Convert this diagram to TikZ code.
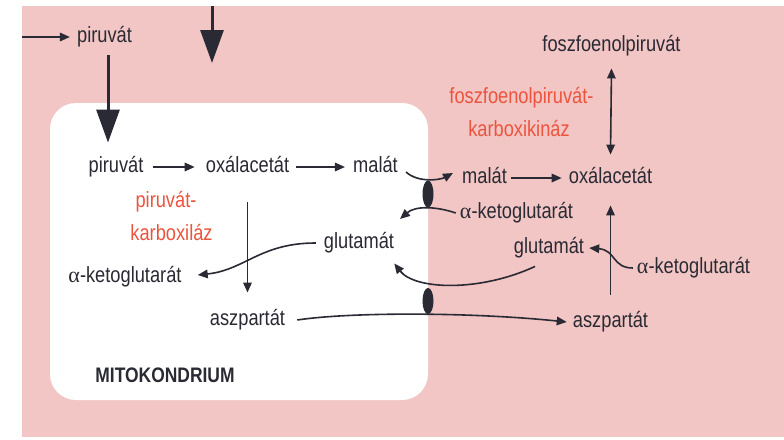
\documentclass[tikz,border=0pt]{standalone}
\usepackage{fontspec}
\setmainfont{Liberation Sans}[FakeStretch=0.83]
\newfontfamily\greekserif{Liberation Serif}
\newcommand{\galpha}{{\greekserif α}}
\usetikzlibrary{arrows.meta}
\definecolor{bgpink}{RGB}{242,198,196}
\definecolor{ink}{RGB}{42,42,52}
\definecolor{enzred}{RGB}{236,84,62}
\begin{document}
\begin{tikzpicture}[x=1pt,y=-1pt,
  lbl/.style={text=ink, font=\fontsize{22}{26}\selectfont, text height=16pt, text depth=4.5pt, inner xsep=4pt, inner ysep=0pt},
  enz/.style={lbl, text=enzred},
  title/.style={text=ink, font=\bfseries\fontsize{21}{24}\selectfont, inner sep=0pt},
  arr/.style={draw=ink, line width=1.6pt, -{Triangle[length=10pt,width=8.5pt]}},
  dblarr/.style={draw=ink, line width=1.6pt, {Triangle[length=10pt,width=8.5pt]}-{Triangle[length=10pt,width=8.5pt]}},
  bigarr/.style={draw=ink, line width=3pt, -{Triangle[length=33pt,width=23pt]}},
  carrier/.style={fill=ink}
]
\useasboundingbox (0,0) rectangle (784,439);
% cytosol and mitochondrion
\fill[bgpink] (22,6) rectangle (784,437);
\fill[white, rounded corners=26pt] (50,103) rectangle (428,400);

% metabolites
\node[lbl] (pirTop) at (104.5,37) {piruvát};
\node[lbl] (pep) at (611.5,46) {foszfoenolpiruvát};
\node[enz] (pepk1) at (521.5,98) {foszfoenolpiruvát-};
\node[enz] (pepk2) at (519,131) {karboxikináz};
\node[lbl] (pir) at (116,167) {piruvát};
\node[lbl] (oxa) at (247.5,167) {oxálacetát};
\node[lbl] (mal) at (375.5,167) {malát};
\node[enz] (pk1) at (166,202) {piruvát-};
\node[enz] (pk2) at (171.5,235) {karboxiláz};
\node[lbl] (glu) at (359,243) {glutamát};
\node[lbl] (akg) at (125,277) {\galpha-ketoglutarát};
\node[lbl] (asp) at (247.5,320) {aszpartát};
\node[title] (mito) at (165,375) {MITOKONDRIUM};
\node[lbl] (malR) at (484.5,178) {malát};
\node[lbl] (oxaR) at (610.5,178) {oxálacetát};
\node[lbl] (akgR) at (516.5,213) {\galpha-ketoglutarát};
\node[lbl] (gluR) at (549,248) {glutamát};
\node[lbl] (akgF) at (693.5,268) {\galpha-ketoglutarát};
\node[lbl] (aspR) at (610.5,322) {aszpartát};

% free ends
\coordinate (inflow) at (22,37);
\coordinate (cytTop) at (212,6);
\coordinate (cytDown) at (212,63);
\coordinate (akgIn) at (400,219);

% connectors
\draw[arr] (inflow) -- ([xshift=-3pt]pirTop.west);
\draw[bigarr] (cytTop) -- (cytDown);
\draw[bigarr] ([xshift=3.5pt,yshift=-8pt]pirTop.south) -- ([xshift=-8pt,yshift=14pt]pir.north);
\draw[arr] ([xshift=5pt]pir.east) -- ([xshift=-7pt]oxa.west);
\draw[arr] ([xshift=3pt]oxa.east) -- ([xshift=-4pt]mal.west);
\draw[arr] ([yshift=-25pt]oxa.south) -- ([yshift=17pt]asp.north);
\draw[arr] ([xshift=-4pt]glu.west) .. controls (260,243) and (245,270) .. ([xshift=12pt,yshift=2pt]akg.east);
\draw[arr] ([xshift=8pt]asp.east) .. controls (350,312) and (470,312) .. ([xshift=-2pt]aspR.west);
\draw[arr] ([xshift=4pt,yshift=-5pt]mal.east) .. controls (418,183) and (440,180) .. ([xshift=-5pt,yshift=5pt]malR.west);
\draw[arr] (malR.east) -- ([xshift=-3pt]oxaR.west);
\draw[arr] (akgR.west) .. controls (435,206) and (415,206) .. (akgIn);
\draw[arr] ([xshift=-14pt,yshift=-8pt]gluR.south) .. controls (480,292) and (415,290) .. ([xshift=-4pt,yshift=-10pt]glu.south east);
\draw[arr] (akgF.west) .. controls (612,268) and (616,250) .. ([xshift=1pt]gluR.east);
\draw[arr] ([yshift=17pt]aspR.north) -- ([yshift=-17pt]oxaR.south);
\draw[dblarr] ([yshift=-12pt]pep.south) -- ([yshift=13pt]oxaR.north);

% membrane carriers
\fill[carrier] (428,194) ellipse [x radius=5.5pt, y radius=13.5pt];
\fill[carrier] (428,301) ellipse [x radius=5.5pt, y radius=13pt];
\end{tikzpicture}
\end{document}
